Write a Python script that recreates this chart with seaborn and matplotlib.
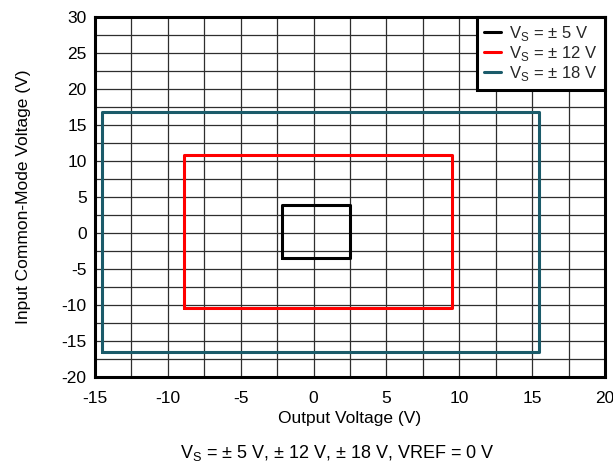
import matplotlib
matplotlib.use("Agg")
import matplotlib.pyplot as plt
import seaborn as sns
import pandas as pd
from matplotlib.ticker import MultipleLocator

# Supply-voltage cases and their operating-region limits (V)
supplies = ["± 5 V", "± 12 V", "± 18 V"]
vout_min = [-2.2, -8.9, -14.55]
vout_max = [2.5, 9.5, 15.5]
vcm_min = [-3.5, -10.45, -16.5]
vcm_max = [3.9, 10.85, 16.85]
colors = ["#000000", "#ff0000", "#1b5b6a"]

x_ticks = [-15, -10, -5, 0, 5, 10, 15, 20]
y_ticks = [-20, -15, -10, -5, 0, 5, 10, 15, 20, 25, 30]

# Closed outline of each region: corner sequence in data units
rows = []
for name, x0, x1, y0, y1 in zip(supplies, vout_min, vout_max, vcm_min, vcm_max):
    label = r"V$_\mathregular{S}$ = " + name
    for i, (x, y) in enumerate([(x0, y0), (x0, y1), (x1, y1), (x1, y0), (x0, y0)]):
        rows.append({"series": label, "order": i, "Vout": x, "Vcm": y})
df = pd.DataFrame(rows)

sns.set_theme(style="white")
plt.rcParams["font.family"] = ["Liberation Sans", "DejaVu Sans"]
plt.rcParams["mathtext.fontset"] = "custom"
plt.rcParams["mathtext.rm"] = "Liberation Sans"
plt.rcParams["axes.unicode_minus"] = False

fig = plt.figure(figsize=(6.13, 4.67), dpi=100)
ax = fig.add_axes([0.155, 0.193, 0.832, 0.771])

labels = df["series"].unique().tolist()
sns.lineplot(data=df, x="Vout", y="Vcm", hue="series", hue_order=labels,
             palette=dict(zip(labels, colors)), sort=False, estimator=None,
             units="series", linewidth=2.2, ax=ax, zorder=3)

ax.set_xlim(-15, 20)
ax.set_ylim(-20, 30)
ax.set_xticks(x_ticks)
ax.set_yticks(y_ticks)
ax.xaxis.set_minor_locator(MultipleLocator(2.5))
ax.yaxis.set_minor_locator(MultipleLocator(2.5))
ax.grid(True, which="both", color="#2e2e2e", linewidth=0.9)
ax.set_axisbelow(True)
ax.tick_params(axis="both", which="both", length=0, labelsize=12.5,
               colors="black")
ax.tick_params(axis="x", pad=10)
ax.tick_params(axis="y", pad=6)
for s in ax.spines.values():
    s.set_color("black")
    s.set_linewidth(2.2)

ax.set_xlabel("Output Voltage (V)", fontsize=12.5, labelpad=4, color="black")
ax.set_ylabel("Input Common-Mode Voltage (V)", fontsize=12.5, labelpad=22,
              color="black")

leg = ax.legend(loc="upper right", fontsize=12, frameon=True, fancybox=False,
                borderaxespad=0, handlelength=1.0, handletextpad=0.5,
                labelspacing=0.05, borderpad=0.45, framealpha=1)
leg.get_frame().set_edgecolor("black")
leg.get_frame().set_linewidth(2.2)
for line in leg.get_lines():
    line.set_linewidth(2.2)

fig.text(0.55, 0.009, r"V$_\mathregular{S}$ = ± 5 V, ± 12 V, ± 18 V, VREF = 0 V",
         ha="center", va="bottom", fontsize=13, color="black")

fig.savefig("out.png", dpi=100)
